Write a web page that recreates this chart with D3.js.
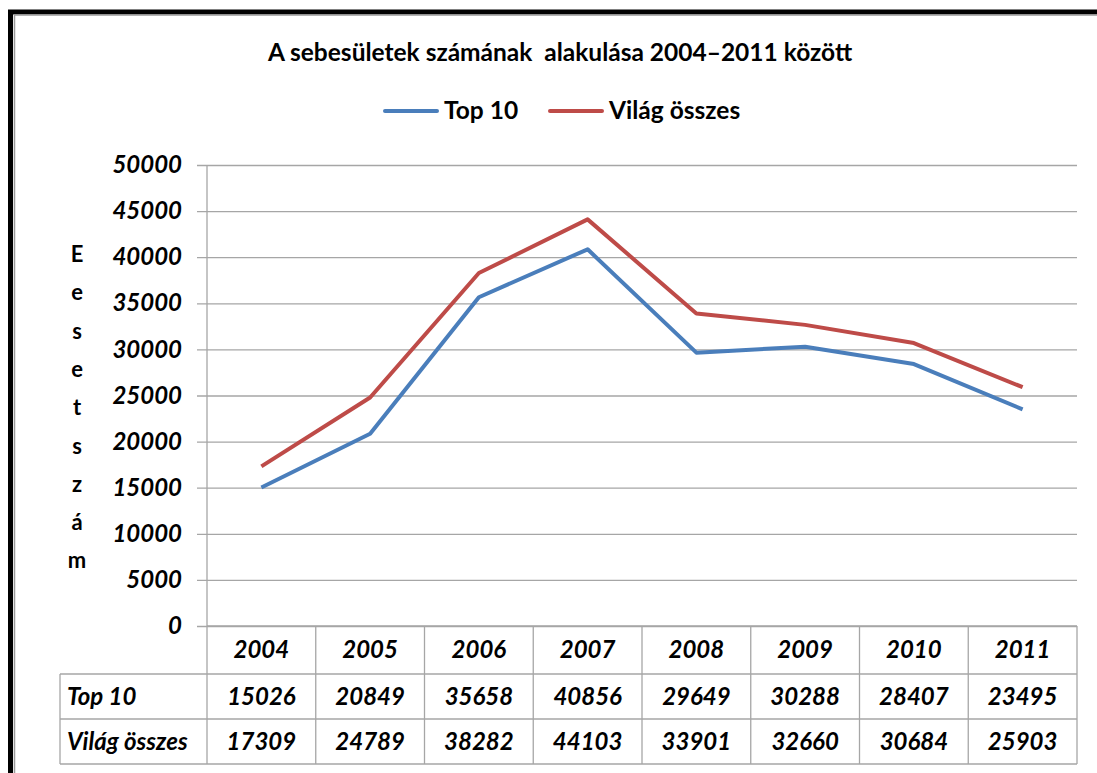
<!DOCTYPE html>
<html>
<head>
<meta charset="utf-8">
<script src="https://cdn.jsdelivr.net/npm/d3@7"></script>
<style>
  body { margin: 0; background: #fff; }
  text { font-family: Lato, "Open Sans", sans-serif; fill: #000; }
</style>
</head>
<body>
<div id="chart"></div>
<script>
const years = ['2004', '2005', '2006', '2007', '2008', '2009', '2010', '2011']
const top10 = [15026, 20849, 35658, 40856, 29649, 30288, 28407, 23495]
const vilag = [17309, 24789, 38282, 44103, 33901, 32660, 30684, 25903]
const seriesNames = ['Top 10', 'Világ összes']
const seriesColors = ['#4a7ebb', '#be4b48']
const yTicks = [0, 5000, 10000, 15000, 20000, 25000, 30000, 35000, 40000, 45000, 50000]
const yLabel = 'Eesetszám'
const title = 'A sebesületek számának  alakulása 2004–2011 között'

const W = 1097, H = 773
const plot = { left: 207, right: 1077, top: 165, bottom: 626 }
const rowH = [48, 45, 45]
const tableLeft = 60
const grid = '#a6a6a6'
const fs = 24

const svg = d3.select('#chart').append('svg')
  .attr('width', W).attr('height', H)

// frame
svg.append('path')
  .attr('d', `M10.5,${H} V12 H${W}`)
  .attr('fill', 'none').attr('stroke', '#000').attr('stroke-width', 5)
svg.append('path')
  .attr('d', `M14.5,${H} V15 H${W}`)
  .attr('fill', 'none').attr('stroke', '#999').attr('stroke-width', 1.5)

const x = d3.scaleBand().domain(years).range([plot.left, plot.right])
const y = d3.scaleLinear().domain([0, 50000]).range([plot.bottom, plot.top])

// title
svg.append('text')
  .attr('x', 560).attr('y', 61)
  .attr('text-anchor', 'middle')
  .attr('font-size', 24.5).attr('font-weight', 'bold')
  .attr('xml:space', 'preserve')
  .text(title)

// legend
const legend = svg.append('g')
const legendX = [385, 550]
seriesNames.forEach((name, i) => {
  legend.append('line')
    .attr('x1', legendX[i]).attr('x2', legendX[i] + 52)
    .attr('y1', 111).attr('y2', 111)
    .attr('stroke', seriesColors[i]).attr('stroke-width', 4)
    .attr('stroke-linecap', 'round')
  legend.append('text')
    .attr('x', legendX[i] + 59).attr('y', 119)
    .attr('font-size', 24.5).attr('font-weight', 'bold')
    .text(name)
})

// y axis + grid
const yAxis = d3.axisLeft(y)
  .tickValues(yTicks)
  .tickSize(-(plot.right - plot.left + 10))
  .tickPadding(15)
  .tickFormat(d3.format('d'))

const gy = svg.append('g')
  .attr('transform', `translate(${plot.left - 10},0)`)
  .call(yAxis)
gy.select('.domain').remove()
gy.selectAll('.tick line').attr('stroke', grid).attr('stroke-width', 1.3)
gy.selectAll('.tick text')
  .attr('font-size', fs).attr('font-weight', 'bold').attr('font-style', 'italic')
  .attr('font-family', 'Lato, "Open Sans", sans-serif')
  .attr('fill', '#000')

svg.append('line')
  .attr('x1', plot.left).attr('x2', plot.left)
  .attr('y1', plot.top).attr('y2', plot.bottom)
  .attr('stroke', grid).attr('stroke-width', 1.3)

// y label, stacked letters
svg.append('g').selectAll('text')
  .data(yLabel.split(''))
  .join('text')
  .attr('x', 77)
  .attr('y', (d, i) => 262 + i * 38.3)
  .attr('text-anchor', 'middle')
  .attr('font-size', 22).attr('font-weight', 'bold')
  .text(d => d)

// lines
const line = d3.line()
  .x((d, i) => x(years[i]) + x.bandwidth() / 2)
  .y(d => y(d))

svg.append('g').selectAll('path')
  .data([top10, vilag])
  .join('path')
  .attr('d', line)
  .attr('fill', 'none')
  .attr('stroke', (d, i) => seriesColors[i])
  .attr('stroke-width', 4)
  .attr('stroke-linejoin', 'round')

// data table
const rows = [years, top10, vilag]
const rowY = [plot.bottom, plot.bottom + rowH[0], plot.bottom + rowH[0] + rowH[1]]
const table = svg.append('g')

rows.forEach((vals, r) => {
  table.selectAll(null)
    .data(vals)
    .join('text')
    .attr('x', (d, i) => x(years[i]) + x.bandwidth() / 2)
    .attr('y', rowY[r] + rowH[r] / 2 + 8)
    .attr('text-anchor', 'middle')
    .attr('font-size', fs).attr('font-weight', 'bold').attr('font-style', 'italic')
    .text(d => d)
  if (r > 0) {
    table.append('text')
      .attr('x', tableLeft + 7)
      .attr('y', rowY[r] + rowH[r] / 2 + 8)
      .attr('font-size', fs).attr('font-weight', 'bold').attr('font-style', 'italic')
      .text(seriesNames[r - 1])
  }
})

const tableBottom = rowY[2] + rowH[2]
const hl = [
  [plot.left, plot.right, plot.bottom],
  [tableLeft, plot.right, rowY[1]],
  [tableLeft, plot.right, rowY[2]],
  [tableLeft, plot.right, tableBottom]
]
table.selectAll('line.h')
  .data(hl)
  .join('line')
  .attr('class', 'h')
  .attr('x1', d => d[0]).attr('x2', d => d[1])
  .attr('y1', d => d[2]).attr('y2', d => d[2])
  .attr('stroke', grid).attr('stroke-width', 1.3)

const vx = years.map(d => x(d)).concat([plot.right])
table.selectAll('line.v')
  .data(vx)
  .join('line')
  .attr('class', 'v')
  .attr('x1', d => d).attr('x2', d => d)
  .attr('y1', plot.bottom).attr('y2', tableBottom)
  .attr('stroke', grid).attr('stroke-width', 1.3)

table.append('line')
  .attr('x1', tableLeft).attr('x2', tableLeft)
  .attr('y1', rowY[1]).attr('y2', tableBottom)
  .attr('stroke', grid).attr('stroke-width', 1.3)
</script>
</body>
</html>
